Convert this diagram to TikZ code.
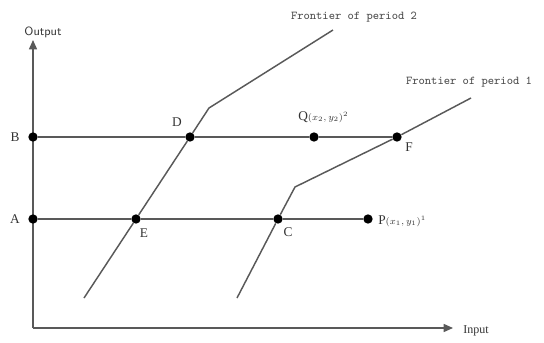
\documentclass[tikz,border=0pt]{standalone}
\usepackage{fontspec}
\setmainfont{Liberation Serif}
\usetikzlibrary{arrows.meta}

\tikzset{
  dot/.style={circle,fill=black,inner sep=0pt,minimum size=7pt},
  ln/.style={draw=black!65,line width=1.1pt},
  axis/.style={ln,-{Triangle[length=7pt,width=6pt]}},
  lab/.style={inner sep=0.75pt,text=black!80},
  note/.style={inner sep=0.75pt,text=black!70,font=\ttfamily\small}
}

\begin{document}
\begin{tikzpicture}[x=0.75pt,y=0.75pt,yscale=-1,xscale=1]
\useasboundingbox (0,0) rectangle (544,343);

% axes
\coordinate (O) at (33,328);
\coordinate (ytip) at (33,40);
\coordinate (xtip) at (453,328);
\draw [axis] (O) -- (ytip);
\draw [axis] (O) -- (xtip);
\node [lab,font=\sffamily\small] (out) at (43,32) {Output};
\node [lab,font=\small] (inp) at (476,331) {Input};

% points
\node [dot] (B) at (33,137) {};
\node [dot] (A) at (33,219) {};
\node [dot] (D) at (190,137) {};
\node [dot] (E) at (136,219) {};
\node [dot] (C) at (278,219) {};
\node [dot] (Q) at (314,137) {};
\node [dot] (F) at (397,137) {};
\node [dot] (P) at (368,219) {};

% input-output rays
\draw [ln] (B) -- (D) -- (Q) -- (F);
\draw [ln] (A) -- (E) -- (C) -- (P);

% frontier of period 2
\coordinate (f2b) at (84,298);
\coordinate (f2k) at (209,108);
\coordinate (f2t) at (333,30);
\draw [ln] (f2b) -- (E) -- (D) -- (f2k) -- (f2t);

% frontier of period 1
\coordinate (f1b) at (237,298);
\coordinate (f1k) at (295,187);
\coordinate (f1t) at (471,98);
\draw [ln] (f1b) -- (C) -- (f1k) -- (F) -- (f1t);

% Text Node
\node [lab] (labB) at (15,137) {B};
\node [lab] (labA) at (15,219) {A};
\node [lab] (labD) at (177,122) {D};
\node [lab] (labE) at (144,233) {E};
\node [lab] (labC) at (288,232) {C};
\node [lab] (labF) at (409,147) {F};
\node [lab,anchor=west] (labQ) at (297,117) {Q\scriptsize$(x_2,y_2)^2$};
\node [lab,anchor=west] (labP) at (377,221) {P\scriptsize$(x_1,y_1)^1$};
\node [note] (fr2) at (354,17) {Frontier of period 2};
\node [note] (fr1) at (469,82) {Frontier of period 1};
\end{tikzpicture}
\end{document}
